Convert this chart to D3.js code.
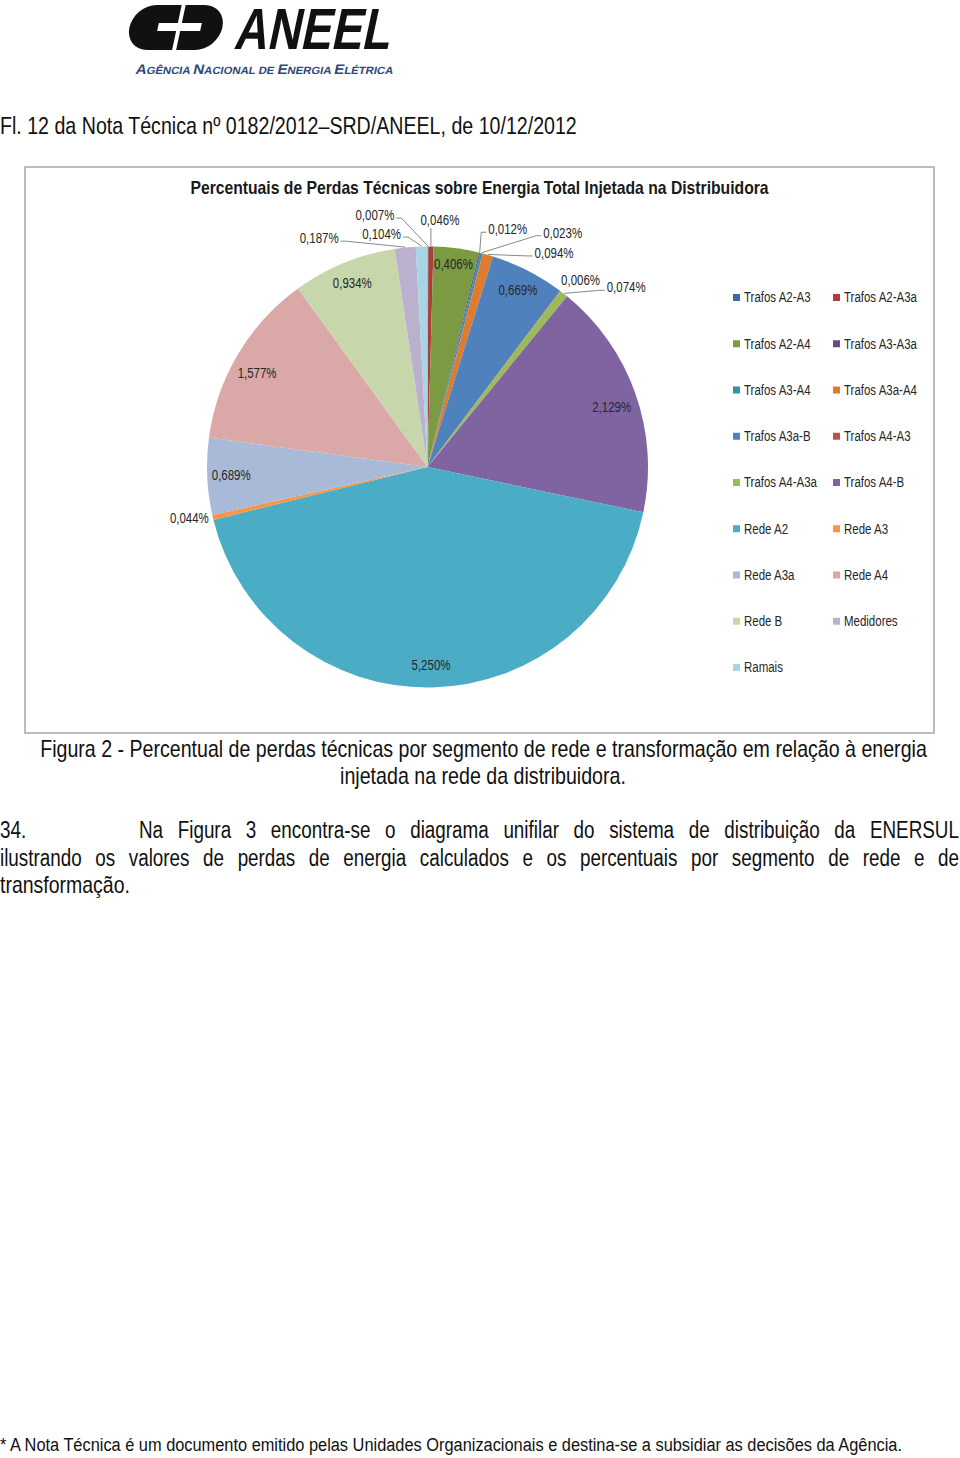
<!DOCTYPE html>
<html><head><meta charset="utf-8">
<script src="https://cdn.jsdelivr.net/npm/d3@7"></script>
<style>
html,body{margin:0;padding:0;background:#fff;}
svg{display:block;}
</style></head>
<body><svg id="c" width="960" height="1458"></svg>
<script>
// ---------- DATA ----------
const categories = ["Trafos A2-A3","Trafos A2-A3a","Trafos A2-A4","Trafos A3-A3a","Trafos A3-A4","Trafos A3a-A4",
  "Trafos A3a-B","Trafos A4-A3","Trafos A4-A3a","Trafos A4-B","Rede A2","Rede A3","Rede A3a","Rede A4",
  "Rede B","Medidores","Ramais"];
const values = [0.007,0.046,0.406,0.012,0.023,0.094,0.669,0.006,0.074,2.129,5.250,0.044,0.689,1.577,0.934,0.187,0.104];
const colors = ["#3D6AA1","#A93E3B","#7B9A42","#654E86","#3592AD","#DF7B2E",
  "#4F81BD","#C0504D","#9BBB59","#8064A2","#4BACC6","#F79646",
  "#A9BAD8","#D9A8A7","#C8D7AB","#BBB0CE","#A8D5E3"];
const chartTitle = "Percentuais de Perdas Técnicas sobre Energia Total Injetada na Distribuidora";
const headerText = "Fl. 12 da Nota Técnica nº 0182/2012–SRD/ANEEL, de 10/12/2012";
const captionLines = ["Figura 2 - Percentual de perdas técnicas por segmento de rede e transformação em relação à energia",
  "injetada na rede da distribuidora."];
const paraLine1 = "Na Figura 3 encontra-se o diagrama unifilar do sistema de distribuição da ENERSUL";
const paraLine2 = "ilustrando os valores de perdas de energia calculados e os percentuais por segmento de rede e de";
const paraLine3 = "transformação.";
const footnote = "* A Nota Técnica é um documento emitido pelas Unidades Organizacionais e destina-se a subsidiar as decisões da Agência.";

// ---------- LAYOUT (label nudges) ----------
const outsideLabelLayout = {
  0:{dx:-53,dy:-31,side:"right"}, 1:{dx:9,dy:-26,side:"bottom"}, 3:{dx:28,dy:-23,side:"left"},
  4:{dx:81,dy:-20,side:"left"}, 5:{dx:66,dy:-1.5,side:"left"}, 7:{dx:20,dy:-10,side:"none"},
  8:{dx:62,dy:-6,side:"left"}, 11:{dx:-23,dy:0.5,side:"none"}, 15:{dx:-86,dy:-9,side:"right"},
  16:{dx:-40,dy:-12,side:"right"}
};
const insideLabelNudge = {2:{dx:0,dy:-6}, 9:{dx:-3,dy:6}, 13:{dx:0,dy:8}, 12:{dx:2,dy:0}};

const FONT = "'Liberation Sans',Arial,sans-serif";
const NARROW = 0.82;
const svg = d3.select("#c").attr("font-family", FONT);
svg.append("rect").attr("width",960).attr("height",1458).attr("fill","#fff");

// text helper: horizontally condensed text (narrow face emulation) via scale transform
function txt(parent, str, x, y, o={}){
  const t = parent.append("text")
    .attr("font-size", o.size||14)
    .attr("fill", o.fill||"#111")
    .attr("text-anchor", o.anchor||"start")
    .text(str);
  if(o.weight) t.attr("font-weight", o.weight);
  if(o.style) t.attr("font-style", o.style);
  if(o.dy) t.attr("dy", o.dy);
  const w = t.node().getComputedTextLength();
  const sx = o.width ? o.width / w : (o.sx || NARROW);
  t.attr("transform", `translate(${x},${y}) ${o.skew?`skewX(${o.skew}) `:""}scale(${sx},1)`);
  t.scaledWidth = w*sx;
  return t;
}

// ---------- LOGO ----------
const logo = svg.append("g").attr("transform","translate(0,27) skewX(-12) translate(0,-27)");
logo.append("path").attr("fill","#111")
  .attr("d","M177,5 H152 A22.5,22.5 0 0 0 152,50 H177 V31 H158 V23 H177 Z");
logo.append("path").attr("fill","#111")
  .attr("d","M181,5 H200 A22.5,22.5 0 0 1 200,50 H181 V31 H201 V23 H181 Z");
txt(svg,"ANEEL",233,49,{size:58,weight:"bold",skew:-12,width:156,fill:"#111"});
const sub = svg.append("text").attr("fill","#2F4A78").attr("font-weight","bold");
[["A",14],["GÊNCIA ",10.5],["N",14],["ACIONAL DE ",10.5],["E",14],["NERGIA ",10.5],["E",14],["LÉTRICA",10.5]]
  .forEach(([t,s])=>sub.append("tspan").attr("font-size",s).text(t));
{
  const w = sub.node().getComputedTextLength();
  sub.attr("transform",`translate(135,74) skewX(-12) scale(${258/w},1)`);
}

// ---------- HEADER ----------
txt(svg, headerText, 0, 134, {size:24, width:577});

// ---------- CHART BOX ----------
svg.append("rect").attr("x",25).attr("y",167).attr("width",909).attr("height",566)
  .attr("fill","#fff").attr("stroke","#a6a6a6").attr("stroke-width",1.5);
txt(svg, chartTitle, 479.5, 194, {size:18, weight:"bold", anchor:"middle", width:579, fill:"#1a1a1a"});

// ---------- PIE ----------
const cx=427.5, cy=467, R=220.5;
const data = categories.map((c,i)=>({cat:c, value:values[i], i}));
const arcs = d3.pie().sort(null).value(d=>d.value)(data);
const arcGen = d3.arc().innerRadius(0).outerRadius(R);
const pg = svg.append("g").attr("transform",`translate(${cx},${cy})`);
pg.selectAll("path.slice").data(arcs).join("path").attr("class","slice")
  .attr("d",arcGen).attr("fill",d=>colors[d.data.i]);

const fmt = v => d3.format(".3f")(v).replace(".",",")+"%";
const polar = (a,r)=>[r*Math.sin(a), -r*Math.cos(a)];
const labG = pg.append("g");
arcs.forEach(d=>{
  const mid=(d.startAngle+d.endAngle)/2;
  const i=d.data.i;
  const lay = outsideLabelLayout[i];
  if(!lay){
    const nd = insideLabelNudge[i]||{dx:0,dy:0};
    const [x,y]=polar(mid,R*0.9);
    txt(labG, fmt(d.data.value), x+nd.dx, y+nd.dy, {size:14, anchor:"middle", dy:"0.35em", fill:"#262626"});
  } else {
    const [ax,ay]=polar(mid,R+0.5);
    const lx=ax+lay.dx, ly=ay+lay.dy;
    const t=txt(labG, fmt(d.data.value), lx, ly, {size:14, anchor:"middle", dy:"0.35em", fill:"#262626"});
    const w=t.scaledWidth;
    let pts=null;
    if(lay.side==="right") pts=[[lx+w/2+2,ly+3],[lx+w/2+7,ly+3],[ax,ay]];
    else if(lay.side==="left") pts=[[lx-w/2-2,ly+3],[lx-w/2-7,ly+3],[ax,ay]];
    else if(lay.side==="bottom") pts=[[ax,ly+8],[ax,ay]];
    if(pts) pg.append("path").attr("d",d3.line()(pts)).attr("fill","none").attr("stroke","#7a7a7a").attr("stroke-width",0.9);
  }
});

// ---------- LEGEND ----------
const lg = svg.append("g");
categories.forEach((c,i)=>{
  const col=i%2, row=Math.floor(i/2);
  const x = col===0?733:833, y=297.5+row*46.25;
  lg.append("rect").attr("x",x).attr("y",y-3.5).attr("width",7).attr("height",7).attr("fill",colors[i]);
  txt(lg, c, x+11, y, {size:14, dy:"0.35em", fill:"#262626"});
});

// ---------- CAPTION & PARAGRAPH ----------
txt(svg, captionLines[0], 483.5, 757, {size:23, anchor:"middle", width:887});
txt(svg, captionLines[1], 483, 784, {size:23, anchor:"middle", width:286});

function justify(text,x0,x1,y,size){
  const words=text.split(" ");
  const g=svg.append("g");
  const nodes=words.map(w=>txt(g, w, 0, y, {size:size}));
  const widths=nodes.map(n=>n.scaledWidth);
  const sum=d3.sum(widths);
  const gap=(x1-x0-sum)/(words.length-1);
  let x=x0;
  nodes.forEach((n,i)=>{
    n.attr("transform", `translate(${x},${y}) scale(${NARROW},1)`);
    x+=widths[i]+gap;
  });
}
txt(svg, "34.", 0, 838, {size:23});
justify(paraLine1,139,959,838,23);
justify(paraLine2,0,959,866,23);
txt(svg, paraLine3, 0, 893, {size:23, width:130});

// ---------- FOOTNOTE ----------
txt(svg, footnote, 0, 1451, {size:19, width:903});
</script>
</body></html>
